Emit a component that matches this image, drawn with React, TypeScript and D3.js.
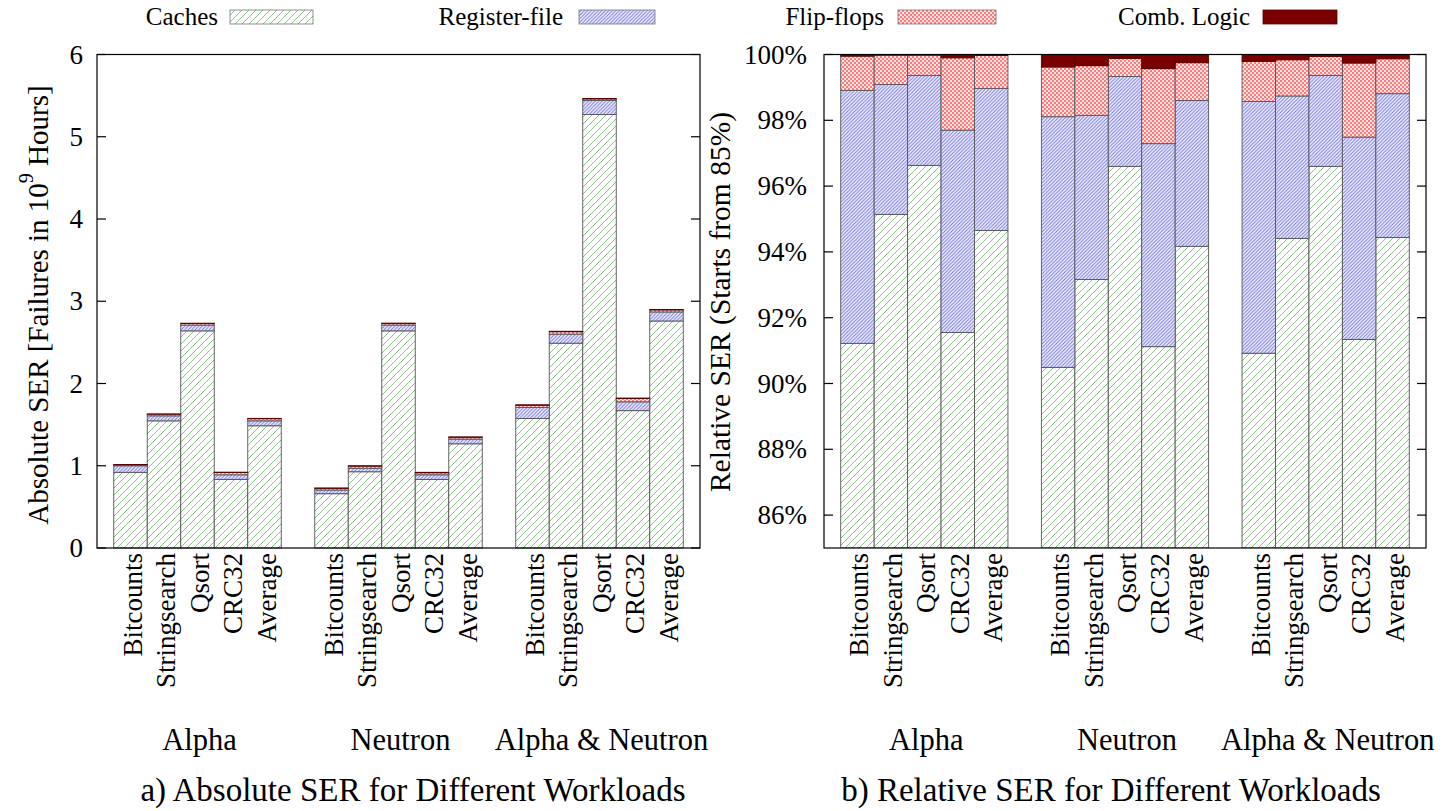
import React from "react";
import * as d3 from "d3";

const groups = ["Alpha", "Neutron", "Alpha & Neutron"];
const workloads = ["Bitcounts", "Stringsearch", "Qsort", "CRC32", "Average"];
const seriesNames = ["Caches", "Register-file", "Flip-flops", "Comb. Logic"];

// Absolute SER (failures in 10^9 hours), per component, order: groups x workloads
const absCaches = [0.92, 1.546, 2.64, 0.834, 1.486, 0.66, 0.927, 2.64, 0.834, 1.267, 1.575, 2.49, 5.27, 1.67, 2.76];
const absRegister = [0.08, 0.061, 0.07, 0.056, 0.06, 0.045, 0.043, 0.07, 0.056, 0.057, 0.134, 0.11, 0.17, 0.107, 0.11];
const absFlipFlops = [0.012, 0.02, 0.02, 0.028, 0.026, 0.02, 0.025, 0.02, 0.025, 0.022, 0.026, 0.03, 0.02, 0.04, 0.025];
const absComb = [0.003, 0.003, 0.003, 0.004, 0.004, 0.005, 0.005, 0.004, 0.005, 0.005, 0.006, 0.005, 0.005, 0.006, 0.005];

// Relative SER (%), per component
const relCaches = [91.22, 95.14, 96.63, 91.55, 94.65, 90.49, 93.16, 96.6, 91.12, 94.17, 90.92, 94.41, 96.6, 91.34, 94.44];
const relRegister = [7.69, 3.95, 2.73, 6.15, 4.32, 7.62, 4.99, 2.73, 6.17, 4.43, 7.65, 4.33, 2.76, 6.15, 4.37];
const relFlipFlops = [1.04, 0.89, 0.62, 2.2, 1.0, 1.51, 1.51, 0.55, 2.28, 1.15, 1.22, 1.1, 0.58, 2.25, 1.06];
const relComb = [0.05, 0.02, 0.02, 0.1, 0.03, 0.38, 0.34, 0.12, 0.43, 0.25, 0.21, 0.16, 0.06, 0.26, 0.13];

const absTicks = [0, 1, 2, 3, 4, 5, 6];
const relTicks = [86, 88, 90, 92, 94, 96, 98, 100];

const FONT = "'Liberation Serif', 'Times New Roman', serif";
const fills = ["url(#pCache)", "url(#pReg)", "url(#pFF)", "#7a0000"];

type Panel = {
  x0: number;
  x1: number;
  y: d3.ScaleLinear<number, number>;
  comps: number[][];
};

function outerScale(x0: number, x1: number) {
  return d3.scaleBand<string>().domain(groups).range([x0, x1]).paddingInner(1 / 6).paddingOuter(1 / 12);
}

function Bars({ x0, x1, y, comps }: Panel) {
  const outer = outerScale(x0, x1);
  const inner = d3.scaleBand<string>().domain(workloads).range([0, outer.bandwidth()]).padding(0);
  const stack = d3.stack<number>().keys(["0", "1", "2", "3"]).value((i, k) => comps[+k][i]);
  const idx = d3.range(groups.length * workloads.length);
  const layers = stack(idx);
  return (
    <g>
      {layers.map((layer, s) =>
        layer.map((d, i) => {
          const g = groups[Math.floor(i / workloads.length)];
          const w = workloads[i % workloads.length];
          const bx = (outer(g) as number) + (inner(w) as number);
          const yTop = y(d[1]);
          const yBot = y(s === 0 ? y.domain()[0] : d[0]);
          return (
            <rect
              key={`${s}-${i}`}
              x={bx}
              y={yTop}
              width={inner.bandwidth()}
              height={Math.max(0, yBot - yTop)}
              fill={fills[s]}
              stroke={s === 3 ? "#5a0000" : "#555"}
              strokeWidth={0.9}
            />
          );
        })
      )}
    </g>
  );
}

function Labels({ x0, x1, yTop }: { x0: number; x1: number; yTop: number }) {
  const outer = outerScale(x0, x1);
  const inner = d3.scaleBand<string>().domain(workloads).range([0, outer.bandwidth()]).padding(0);
  return (
    <g fontFamily={FONT} fill="#000">
      {groups.map((g) =>
        workloads.map((w) => {
          const cx = (outer(g) as number) + (inner(w) as number) + inner.bandwidth() / 2 + 2;
          return (
            <text
              key={g + w}
              transform={`translate(${cx},${yTop}) rotate(-90)`}
              textAnchor="end"
              dominantBaseline="central"
              fontSize={27}
            >
              {w}
            </text>
          );
        })
      )}
      {groups.map((g) => (
        <text key={g} x={(outer(g) as number) + outer.bandwidth() / 2 + 2} y={750} textAnchor="middle" fontSize={30.5}>
          {g}
        </text>
      ))}
    </g>
  );
}

export default function App() {
  const W = 1447;
  const H = 811;
  const top = 54.5;
  const bottom = 548;
  const L = { x0: 97, x1: 700 };
  const R = { x0: 824, x1: 1426 };
  const yAbs = d3.scaleLinear().domain([0, 6]).range([bottom, top]);
  const yRel = d3.scaleLinear().domain([85, 100]).range([bottom, top]);

  const legendItems = [
    { name: seriesNames[0], textEnd: 218, sx: 230, sw: 83 },
    { name: seriesNames[1], textEnd: 563, sx: 579, sw: 76 },
    { name: seriesNames[2], textEnd: 884, sx: 898, sw: 98 },
    { name: seriesNames[3], textEnd: 1250, sx: 1263, sw: 74 },
  ];

  return (
    <svg
      width={W}
      height={H}
      style={{ position: "absolute", left: 0, top: 0, background: "#fff" }}
      fontFamily={FONT}
    >
      <defs>
        <pattern id="pCache" patternUnits="userSpaceOnUse" width={7} height={7}>
          <rect width={7} height={7} fill="#fff" />
          <path d="M-1,1 l2,-2 M0,7 l7,-7 M6,8 l2,-2" stroke="#66a866" strokeWidth={0.75} />
        </pattern>
        <pattern id="pReg" patternUnits="userSpaceOnUse" width={3.5} height={3.5}>
          <rect width={3.5} height={3.5} fill="#f4f4ff" />
          <path d="M-1,1 l2,-2 M0,3.5 l3.5,-3.5 M2.5,4.5 l2,-2" stroke="#6a6ae0" strokeWidth={0.9} />
        </pattern>
        <pattern id="pFF" patternUnits="userSpaceOnUse" width={4} height={4}>
          <rect width={4} height={4} fill="#ffe4e4" />
          <rect x={0} y={0} width={2} height={2} fill="#ff7a7a" />
          <rect x={2} y={2} width={2} height={2} fill="#ff7a7a" />
        </pattern>
        <clipPath id="clipR">
          <rect x={R.x0} y={top} width={R.x1 - R.x0} height={bottom - top} />
        </clipPath>
      </defs>

      {/* Legend */}
      {legendItems.map((it, i) => (
        <g key={it.name}>
          <text x={it.textEnd} y={25} textAnchor="end" fontSize={25}>
            {it.name}
          </text>
          <rect x={it.sx} y={10} width={it.sw} height={14} fill={fills[i]} stroke={i === 3 ? "#5a0000" : "#777"} strokeWidth={0.8} />
        </g>
      ))}

      {/* Left panel */}
      <Bars x0={L.x0} x1={L.x1} y={yAbs} comps={[absCaches, absRegister, absFlipFlops, absComb]} />
      <rect x={L.x0} y={top} width={L.x1 - L.x0} height={bottom - top} fill="none" stroke="#000" strokeWidth={1.2} />
      {absTicks.map((t) => (
        <g key={t}>
          <line x1={L.x0} x2={L.x0 + 9} y1={yAbs(t)} y2={yAbs(t)} stroke="#000" strokeWidth={1.2} />
          <line x1={L.x1 - 9} x2={L.x1} y1={yAbs(t)} y2={yAbs(t)} stroke="#000" strokeWidth={1.2} />
          <text x={83} y={yAbs(t)} textAnchor="end" dominantBaseline="central" fontSize={27}>
            {d3.format("d")(t)}
          </text>
        </g>
      ))}
      <text transform={`translate(38,305) rotate(-90)`} textAnchor="middle" dominantBaseline="central" fontSize={29}>
        Absolute SER [Failures in 10
        <tspan dy={-12} fontSize={20}>9</tspan>
        <tspan dy={12}> Hours]</tspan>
      </text>
      <Labels x0={L.x0} x1={L.x1} yTop={553} />
      <text x={413} y={801} textAnchor="middle" fontSize={33}>
        a) Absolute SER for Different Workloads
      </text>

      {/* Right panel */}
      <g clipPath="url(#clipR)">
        <Bars x0={R.x0} x1={R.x1} y={yRel} comps={[relCaches, relRegister, relFlipFlops, relComb]} />
      </g>
      <rect x={R.x0} y={top} width={R.x1 - R.x0} height={bottom - top} fill="none" stroke="#000" strokeWidth={1.2} />
      {relTicks.map((t) => (
        <g key={t}>
          <line x1={R.x0} x2={R.x0 + 9} y1={yRel(t)} y2={yRel(t)} stroke="#000" strokeWidth={1.2} />
          <line x1={R.x1 - 9} x2={R.x1} y1={yRel(t)} y2={yRel(t)} stroke="#000" strokeWidth={1.2} />
          <text x={807} y={yRel(t)} textAnchor="end" dominantBaseline="central" fontSize={27}>
            {t}%
          </text>
        </g>
      ))}
      <text transform={`translate(720,302) rotate(-90)`} textAnchor="middle" dominantBaseline="central" fontSize={29.5}>
        Relative SER (Starts from 85%)
      </text>
      <Labels x0={R.x0} x1={R.x1} yTop={553} />
      <text x={1111} y={801} textAnchor="middle" fontSize={33}>
        b) Relative SER for Different Workloads
      </text>
    </svg>
  );
}
